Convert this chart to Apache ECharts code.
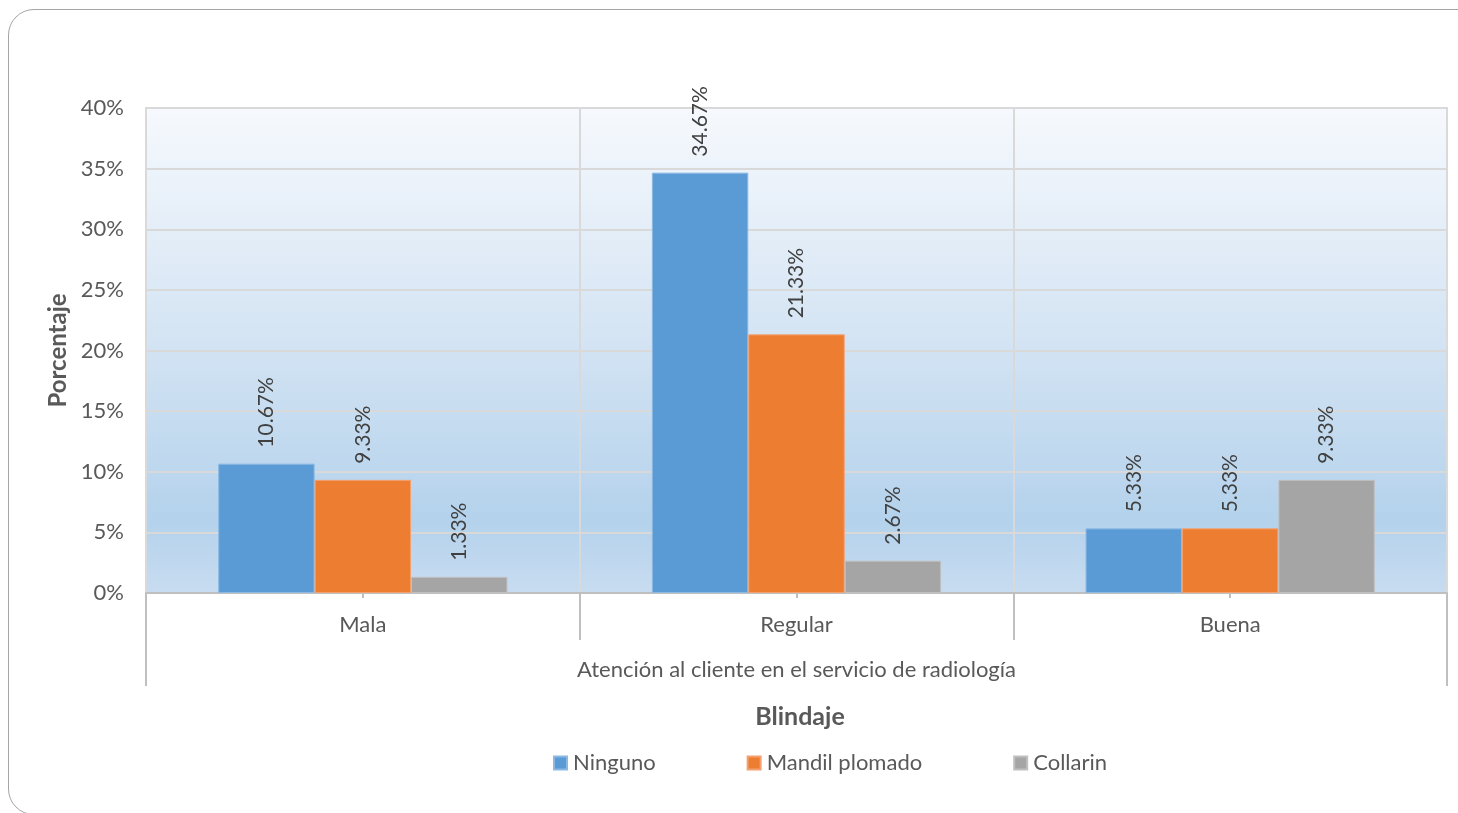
<!DOCTYPE html>
<html>
<head>
<meta charset="utf-8">
<script src="https://cdn.jsdelivr.net/npm/echarts@6/dist/echarts.min.js"></script>
<style>
  html, body { margin: 0; padding: 0; background: #ffffff; overflow: hidden; }
  #frame {
    position: absolute; left: 8px; top: 9px; width: 1480px; height: 806px;
    border: 1px solid #a6a6a6; border-radius: 26px; box-sizing: border-box;
  }
  #chart { position: absolute; left: 0; top: 0; width: 1458px; height: 813px; }
</style>
</head>
<body>
<div id="frame"></div>
<div id="chart"></div>
<script>
// Atención al cliente (categorías) por tipo de blindaje utilizado
const categories = ['Mala', 'Regular', 'Buena'];
const ninguno = [10.67, 34.67, 5.33];
const mandilPlomado = [9.33, 21.33, 5.33];
const collarin = [1.33, 2.67, 9.33];
const seriesNames = ['Ninguno', 'Mandil plomado', 'Collarin'];
const seriesColors = ['#5b9bd5', '#ed7d31', '#a5a5a5'];
const seriesEdges = ['#8cb9e3', '#f3a170', '#c0c0c0'];

const FONT = 'Lato, "Open Sans", sans-serif';
const TEXT = '#595959';

const chart = echarts.init(document.getElementById('chart'), null, { renderer: 'canvas' });

function barSeries(name, data, i) {
  return {
    name: name,
    type: 'bar',
    xAxisIndex: 0,
    data: data,
    barGap: '0%',
    barCategoryGap: '33.3%',
    itemStyle: { color: seriesColors[i], borderColor: seriesEdges[i], borderWidth: 1 },
    label: {
      show: true,
      position: 'top',
      rotate: 90,
      align: 'left',
      verticalAlign: 'middle',
      distance: 16,
      fontFamily: FONT,
      fontSize: 21,
      color: '#404040',
      formatter: p => p.value.toFixed(2) + '%'
    }
  };
}

chart.setOption({
  animation: false,
  textStyle: { fontFamily: FONT },
  title: {
    text: 'Blindaje',
    left: 800,
    textAlign: 'center',
    top: 704,
    padding: 0,
    textStyle: { fontFamily: FONT, fontSize: 25, fontWeight: 'bold', color: TEXT }
  },
  legend: {
    data: seriesNames,
    left: 553,
    top: 752,
    padding: 0,
    icon: 'rect',
    itemWidth: 13,
    itemHeight: 13,
    itemGap: 91,
    textStyle: { fontFamily: FONT, fontSize: 22, color: TEXT, padding: [0, 0, 0, 1] }
  },
  grid: {
    left: 146, right: 11, top: 108, bottom: 220,
    show: true,
    borderColor: '#d9d9d9',
    borderWidth: 2,
    backgroundColor: new echarts.graphic.LinearGradient(0, 0, 0, 1, [
      { offset: 0, color: '#f6f9fd' },
      { offset: 0.45, color: '#d6e5f4' },
      { offset: 0.85, color: '#b4d2ec' },
      { offset: 1, color: '#c8dcf0' }
    ])
  },
  xAxis: [
    {
      type: 'category',
      data: categories,
      position: 'bottom',
      axisLine: { show: true, lineStyle: { color: '#bfbfbf', width: 2 } },
      axisTick: { show: true, interval: 0, length: 47, lineStyle: { color: '#bfbfbf', width: 2 } },
      splitLine: { show: true, interval: 0, lineStyle: { color: '#d9d9d9', width: 2 } },
      axisLabel: { margin: 21, fontFamily: FONT, fontSize: 22, color: TEXT }
    },
    {
      type: 'category',
      data: categories,
      position: 'bottom',
      axisLine: { show: false },
      axisTick: { show: true, alignWithLabel: true, interval: 0, length: 5, lineStyle: { color: '#bfbfbf', width: 2 } },
      axisLabel: { show: false },
      splitLine: { show: false }
    },
    {
      type: 'category',
      data: [''],
      position: 'bottom',
      axisLine: { show: false },
      axisTick: { show: true, interval: 0, length: 93, lineStyle: { color: '#bfbfbf', width: 2 } },
      axisLabel: { show: false },
      splitLine: { show: false },
      name: 'Atención al cliente en el servicio de radiología',
      nameLocation: 'middle',
      nameGap: 66,
      nameTextStyle: { fontFamily: FONT, fontSize: 22, color: TEXT }
    }
  ],
  yAxis: {
    type: 'value',
    min: 0,
    max: 40,
    interval: 5,
    axisLine: { show: false },
    axisTick: { show: false },
    splitLine: { show: true, lineStyle: { color: '#d9d9d9', width: 2 } },
    axisLabel: { formatter: '{value}%', margin: 22, fontFamily: FONT, fontSize: 22, color: TEXT },
    name: 'Porcentaje',
    nameLocation: 'middle',
    nameGap: 74,
    nameTextStyle: { fontFamily: FONT, fontSize: 24, fontWeight: 'bold', color: TEXT }
  },
  series: [
    barSeries(seriesNames[0], ninguno, 0),
    barSeries(seriesNames[1], mandilPlomado, 1),
    barSeries(seriesNames[2], collarin, 2)
  ]
});
</script>
</body>
</html>
